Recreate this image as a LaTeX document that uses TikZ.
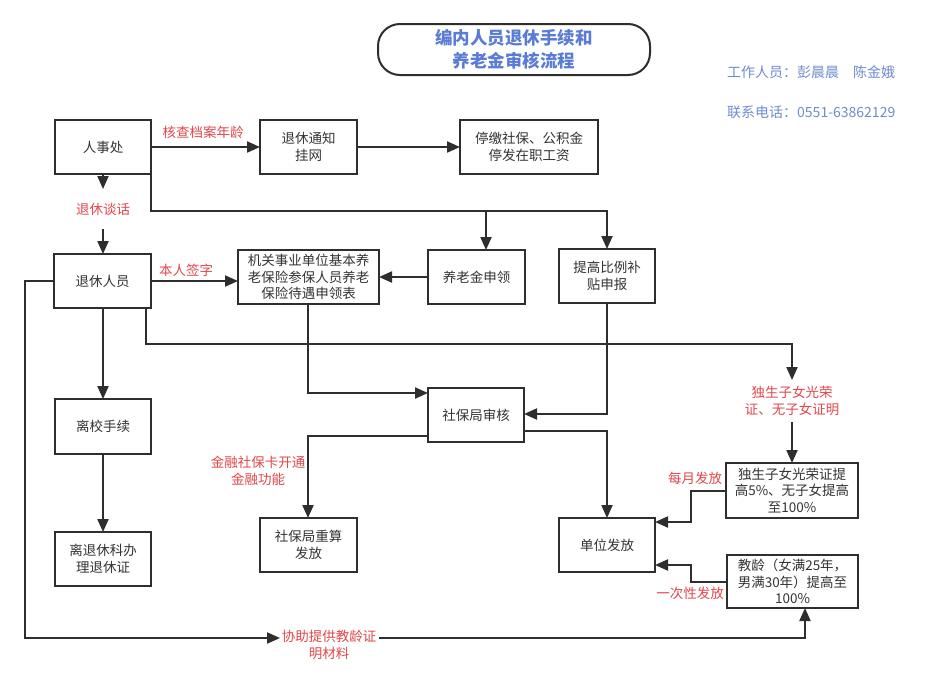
\documentclass[tikz,border=0pt]{standalone}
\usepackage{fontspec}
\setmainfont{Noto Sans CJK SC}
\usetikzlibrary{arrows.meta,calc}
\definecolor{ln}{HTML}{2E2E2E}
\definecolor{tx}{HTML}{333333}
\definecolor{rd}{HTML}{E2474B}
\definecolor{bl}{HTML}{5B7CD6}
\definecolor{ib}{HTML}{6F8CD2}
\tikzset{
  box/.style={draw=ln, line width=2pt, fill=white, inner sep=0pt, outer sep=0pt, align=center,
    text=tx, font=\fontsize{13.5}{16.5}\selectfont},
  lab/.style={text=rd, align=center, inner sep=1pt, font=\fontsize{13.5}{16.5}\selectfont},
  con/.style={draw=ln, line width=2pt},
  arr/.style={con, -{Triangle[length=13pt,width=11pt]}},
}
\newcommand{\bx}[6]{\node[box, minimum width={#4-#2}, minimum height={#5-#3}] (#1) at ({(#2+#4)/2},{(#3+#5)/2}) {#6};}
\begin{document}
\begin{tikzpicture}[x=1pt,y=-1pt]
\useasboundingbox (0,0) rectangle (935,683);
\fill[white] (0,0) rectangle (935,683);
% title
\node[draw=ln, line width=2pt, rounded corners=22pt, minimum width=272pt, minimum height=51pt,
  align=center, text=bl, font=\fontsize{17.5}{23}\selectfont\bfseries] (title) at (514,49.5)
  {编内人员退休手续和\\养老金审核流程};
\node[anchor=west, text=ib, inner sep=0pt, font=\fontsize{14}{16}\selectfont] (info1) at (727,72) {工作人员：彭晨晨　陈金娥};
\node[anchor=west, text=ib, inner sep=0pt, font=\fontsize{14}{16}\selectfont] (info2) at (727,112) {联系电话：0551-63862129};
% boxes
\bx{rsc}{55}{120}{151}{174}{人事处}
\bx{tz}{260}{120}{357}{174}{退休通知\\挂网}
\bx{tj}{460}{120}{598}{174}{停缴社保、公积金\\停发在职工资}
\bx{ygs}{238}{250}{379}{304}{机关事业单位基本养\\老保险参保人员养老\\保险待遇申领表}
\bx{yl}{428}{250}{525}{304}{养老金申领}
\bx{tg}{559}{249}{655}{303}{提高比例补\\贴申报}
\bx{txry}{54}{254}{151}{308}{退休人员}
\bx{sbj}{428}{388}{524}{442}{社保局审核}
\bx{lx}{55}{399}{151}{454}{离校手续}
\bx{lt}{55}{532}{151}{586}{离退休科办\\理退休证}
\bx{cs}{260}{518}{357}{572}{社保局重算\\发放}
\bx{dw}{559}{518}{655}{572}{单位发放}
\bx{dz}{726}{463}{858}{518}{独生子女光荣证提\\高5\%、无子女提高\\至100\%}
\bx{jl}{727}{555}{858}{608}{教龄（女满25年，\\男满30年）提高至\\100\%}
% labels
\node[lab] (l1) at (203,132) {核查档案年龄};
\node[lab] (l2) at (103,209) {退休谈话};
\node[lab] (l3) at (186,270) {本人签字};
\node[lab] (l4) at (792,401) {独生子女光荣\\证、无子女证明};
\node[lab] (l5) at (258,471) {金融社保卡开通\\金融功能};
\node[lab] (l6) at (695,478) {每月发放};
\node[lab] (l7) at (690,593) {一次性发放};
\node[lab] (l8) at (329,645) {协助提供教龄证\\明材料};
% coordinates
\coordinate (c1) at (103,189);
\coordinate (c2) at (103,229);
\coordinate (c3) at (151,211);
\coordinate (c4) at (486,211);
\coordinate (c5) at (607,211);
\coordinate (c6) at (308,393);
\coordinate (c7) at (607,414);
\coordinate (c8) at (428,436);
\coordinate (c9) at (308,436);
\coordinate (c10) at (524,431);
\coordinate (c11) at (607,431);
\coordinate (c12) at (146,344);
\coordinate (c13) at (792,344);
\coordinate (c14) at (792,380);
\coordinate (c15) at (792,422);
\coordinate (c16) at (691,491);
\coordinate (c17) at (691,522);
\coordinate (c18) at (691,582);
\coordinate (c19) at (691,565);
\coordinate (c20) at (25,281);
\coordinate (c21) at (25,638);
\coordinate (c22) at (280,638);
\coordinate (c23) at (379,638);
\coordinate (c24) at (805,638);
\coordinate (c25) at (805,608);
% connectors
\draw[arr] (rsc) -- (tz);
\draw[arr] (tz) -- (tj);
\draw[arr] (c1 |- rsc.south) -- (c1);
\draw[arr] (c2) -- (c2 |- txry.north);
\draw[arr] (c3 |- rsc.south) -- (c3) -- (c5) -- (tg.north);
\draw[arr] (c4) -- (c4 |- yl.north);
\draw[arr] (txry.east) -- (txry.east -| ygs.west);
\draw[arr] (yl.west) -- (ygs.east);
\draw[arr] (ygs.south -| c6) -- (c6) -- (c6 -| sbj.west);
\draw[arr] (tg.south) -- (c7) -- (c7 -| sbj.east);
\draw[arr] (c8) -- (c9) -- (c9 |- cs.north);
\draw[arr] (c10) -- (c11) -- (c11 |- dw.north);
\draw[arr] (c12 |- txry.south) -- (c12) -- (c13) -- (c14);
\draw[arr] (c15) -- (c15 |- dz.north);
\draw[arr] (c16 -| dz.west) -- (c16) -- (c17) -- (c17 -| dw.east);
\draw[arr] (c18 -| jl.west) -- (c18) -- (c19) -- (c19 -| dw.east);
\draw[arr] (c1 |- txry.south) -- (c1 |- lx.north);
\draw[arr] (c1 |- lx.south) -- (c1 |- lt.north);
\draw[arr] (txry.west) -- (c20) -- (c21) -- (c22);
\draw[arr] (c23) -- (c24) -- (c25);
\end{tikzpicture}
\end{document}
